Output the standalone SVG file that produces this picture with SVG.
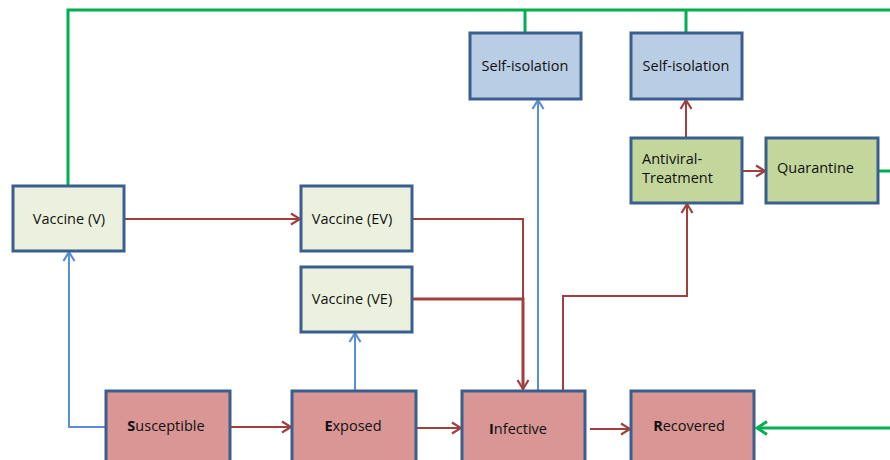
<svg xmlns="http://www.w3.org/2000/svg" width="890" height="460" viewBox="0 0 890 460">
<defs>
<style>
.box{stroke:#3A5F8F;stroke-width:3}
.pink{fill:#D99694}
.lg{fill:#EBF1DE}
.lb{fill:#B9CDE5}
.gr{fill:#C3D69B}
text{font-family:"Open Sans","Liberation Sans",sans-serif;font-size:14.5px;fill:#111}
.c{text-anchor:middle}
.red{stroke:#A0403E;fill:none;stroke-width:2}
.redt{stroke:#A0403E;fill:none;stroke-width:3}
.blue{stroke:#5A8FD6;fill:none;stroke-width:2}
.green{stroke:#00B050;fill:none;stroke-width:3}
</style>
<marker id="ar" markerUnits="userSpaceOnUse" markerWidth="14" markerHeight="14" viewBox="-12 -7 14 14" refX="0" refY="0" orient="auto"><path d="M-9,-5.5 L0,0 L-9,5.5" fill="none" stroke="#A0403E" stroke-width="2.2"/></marker>
<marker id="ab" markerUnits="userSpaceOnUse" markerWidth="14" markerHeight="14" viewBox="-12 -7 14 14" refX="0" refY="0" orient="auto"><path d="M-9,-5.5 L0,0 L-9,5.5" fill="none" stroke="#5A8FD6" stroke-width="2.2"/></marker>
<marker id="ag" markerUnits="userSpaceOnUse" markerWidth="16" markerHeight="16" viewBox="-14 -8 16 16" refX="0" refY="0" orient="auto"><path d="M-10,-6.5 L0,0 L-10,6.5" fill="none" stroke="#00B050" stroke-width="3"/></marker>
</defs>
<rect width="890" height="460" fill="#fff"/>
<g id="connectors">
<path class="green" d="M68,186 V10 H890"/>
<path class="green" d="M525,10 V33"/>
<path class="green" d="M686,10 V33"/>
<path class="green" d="M878,171 H890"/>
<path class="green" d="M890,428 H757" marker-end="url(#ag)"/>
<path class="red" d="M124,219 H300" marker-end="url(#ar)"/>
<path class="red" d="M412,219 H523 V299"/>
<path class="redt" d="M412,299 H523 V389" marker-end="url(#ar)"/>
<path class="blue" d="M538,390 V100" marker-end="url(#ab)"/>
<path class="red" d="M563,390 V296 H687 V204" marker-end="url(#ar)"/>
<path class="red" d="M686,138 V100" marker-end="url(#ar)"/>
<path class="red" d="M742,171 H765" marker-end="url(#ar)"/>
<path class="blue" d="M106,427 H69 V252" marker-end="url(#ab)"/>
<path class="blue" d="M355,391 V333" marker-end="url(#ab)"/>
<path class="red" d="M230,427 H291" marker-end="url(#ar)"/>
<path class="red" d="M416,428 H461" marker-end="url(#ar)"/>
<path class="red" d="M590,429 H630" marker-end="url(#ar)"/>
</g>
<g id="vaccineV"><rect class="box lg" x="13" y="186" width="111" height="65"/><text class="c" x="69" y="224">Vaccine (V)</text></g>
<g id="vaccineEV"><rect class="box lg" x="301" y="186" width="111" height="65"/><text class="c" x="352" y="224">Vaccine (EV)</text></g>
<g id="vaccineVE"><rect class="box lg" x="301" y="267" width="111" height="65"/><text class="c" x="352" y="304">Vaccine (VE)</text></g>
<g id="selfIso1"><rect class="box lb" x="470" y="33" width="111" height="66"/><text class="c" x="525" y="71">Self-isolation</text></g>
<g id="selfIso2"><rect class="box lb" x="631" y="33" width="111" height="66"/><text class="c" x="686" y="71">Self-isolation</text></g>
<g id="antiviral"><rect class="box gr" x="631" y="138" width="111" height="65"/><text x="642" y="164">Antiviral-</text><text x="642" y="183">Treatment</text></g>
<g id="quarantine"><rect class="box gr" x="766" y="138" width="112" height="65"/><text x="777" y="173">Quarantine</text></g>
<g id="susceptible"><rect class="box pink" x="106" y="391" width="124" height="80"/><text class="c" x="166" y="431"><tspan font-weight="bold">S</tspan>usceptible</text></g>
<g id="exposed"><rect class="box pink" x="292" y="391" width="124" height="80"/><text class="c" x="353" y="431"><tspan font-weight="bold">E</tspan>xposed</text></g>
<g id="infective"><rect class="box pink" x="462" y="391" width="123" height="80"/><text class="c" x="518" y="434"><tspan font-weight="bold">I</tspan>nfective</text></g>
<g id="recovered"><rect class="box pink" x="631" y="391" width="123" height="80"/><text class="c" x="689" y="431"><tspan font-weight="bold">R</tspan>ecovered</text></g>
</svg>
